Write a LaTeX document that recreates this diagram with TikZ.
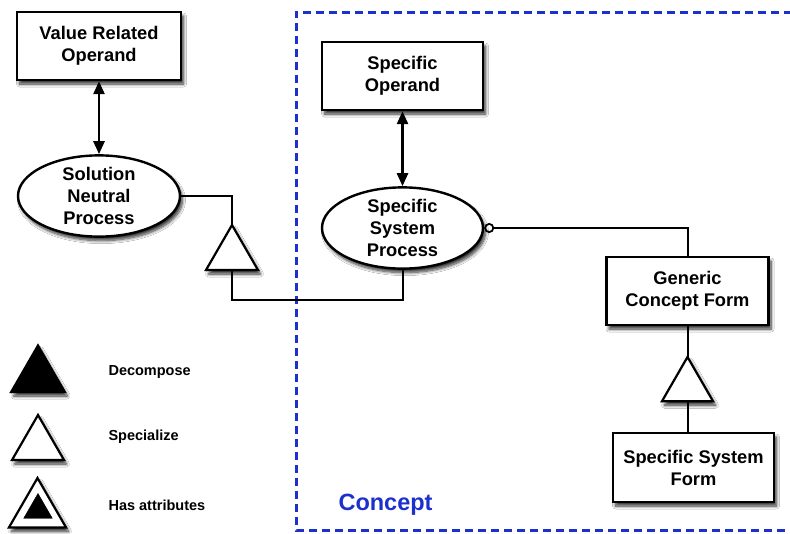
\documentclass[tikz,border=0pt]{standalone}
\usepackage{fontspec}
\setmainfont{Liberation Sans}
\usetikzlibrary{shapes.geometric,arrows.meta,shadows.blur}
\definecolor{conceptblue}{RGB}{28,48,205}
\tikzset{
  shade/.style={blur shadow={shadow xshift=2.5pt,shadow yshift=-4pt,shadow blur steps=8,
    shadow blur radius=3pt,shadow opacity=80}},
  objbox/.style={draw,line width=2.4pt,fill=white,rectangle,inner sep=0pt,
    align=center,font=\fontsize{18.3}{22}\selectfont\bfseries,shade},
  procell/.style={draw,line width=2.4pt,fill=white,ellipse,inner sep=0pt,
    align=center,font=\fontsize{18.3}{22}\selectfont\bfseries,shade},
  tri/.style={draw,line width=2.2pt,fill=white,regular polygon,regular polygon sides=3,
    inner sep=0pt,outer sep=0pt,shade},
  link/.style={line width=2pt},
  biarrow/.style={line width=2.6pt,{Triangle[length=13pt,width=11pt]}-{Triangle[length=13pt,width=11pt]}},
  legendtext/.style={anchor=west,font=\fontsize{14.5}{17}\selectfont\bfseries},
}
\begin{document}
\begin{tikzpicture}[x=1pt,y=-1pt]
\useasboundingbox (0,0) rectangle (790,533);
\fill[white] (0,0) rectangle (790,533);

% concept boundary
\draw[conceptblue,line width=3pt,dash pattern=on 8pt off 5pt]
  (792,12) -- (296,12) -- (296,530) -- (792,530);
\node[anchor=west,text=conceptblue,font=\fontsize{23.5}{27}\selectfont\bfseries] (conceptlbl) at (335,505) {Concept};

% objects and processes
\node[objbox,minimum width=164pt,minimum height=68pt] (vro) at (99,46) {Value Related\\Operand};
\node[procell,minimum width=162pt,minimum height=64pt] (snp) at (99,196) {Solution\\Neutral\\Process};
\node[objbox,minimum width=161pt,minimum height=68pt] (so) at (402.5,76) {Specific\\Operand};
\node[procell,minimum width=161pt,minimum height=70pt] (ssp) at (402.5,228) {Specific\\System\\Process};
\node[objbox,minimum width=162pt,minimum height=68pt] (gcf) at (687.5,291) {Generic\\Concept Form};
\node[objbox,minimum width=161pt,minimum height=69pt] (ssf) at (693.5,467.5) {Specific System\\Form};

% specialization triangles
\node[tri,minimum size=60pt] (t1) at (232,255) {};
\node[tri,minimum size=59pt] (t2) at (687.5,386.5) {};

% connectors
\draw[biarrow] (vro.south) -- (snp.north);
\draw[biarrow] (so.south) -- (ssp.north);
\draw[link] (snp.east) -| (t1.corner 1);
\draw[link] (t1.side 2) -- ++(0,30) -| (ssp.south);
\draw[link,{Circle[open,length=10pt,width=10pt,line width=1.8pt]}-] (ssp.east) -| (gcf.north);
\draw[link] (gcf.south) -- (t2.corner 1);
\draw[link] (t2.side 2) -- (t2.side 2 |- ssf.north);

% legend
\node[tri,fill=black,minimum size=62pt] (ldec) at (38,376.5) {};
\node[legendtext] (ldectext) at (105,372) {Decompose};
\node[tri,minimum size=60pt] (lspec) at (38,445) {};
\node[legendtext] (lspectext) at (105,437) {Specialize};
\node[tri,minimum size=66pt] (lattr) at (37.5,511) {};
\node[draw,fill=black,regular polygon,regular polygon sides=3,inner sep=0pt,minimum size=33pt] (lattrin) at (38,510) {};
\node[legendtext] (lattrtext) at (105,505) {Has attributes};
\end{tikzpicture}
\end{document}
